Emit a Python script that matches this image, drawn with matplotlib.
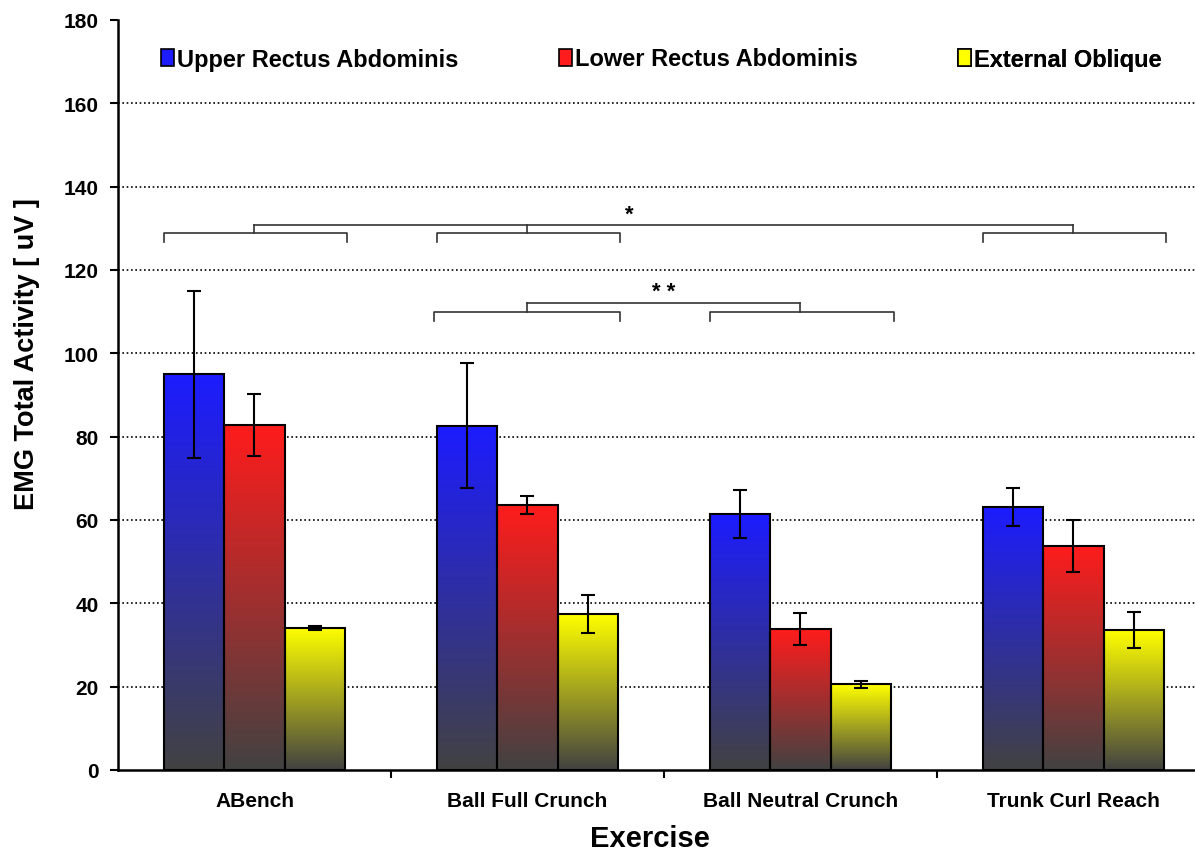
import numpy as np
import matplotlib
matplotlib.use("Agg")
import matplotlib.pyplot as plt
from matplotlib.colors import LinearSegmentedColormap
from matplotlib.patches import Patch

plt.rcParams["font.family"] = ["Liberation Sans", "DejaVu Sans"]
plt.rcParams["font.weight"] = "bold"

exercises = ["ABench", "Ball Full Crunch", "Ball Neutral Crunch", "Trunk Curl Reach"]
series = ["Upper Rectus Abdominis", "Lower Rectus Abdominis", "External Oblique"]
upper = [95.0, 82.6, 61.4, 63.1]
upper_err = [20.0, 15.0, 5.7, 4.6]
lower = [82.8, 63.6, 33.8, 53.8]
lower_err = [7.5, 2.1, 3.8, 6.3]
oblique = [34.1, 37.4, 20.6, 33.6]
oblique_err = [0.4, 4.5, 0.8, 4.3]
top_colors = ["#1c1cff", "#ff1c1c", "#ffff00"]
bottom_color = "#424242"

values = [upper, lower, oblique]
errors = [upper_err, lower_err, oblique_err]

fig = plt.figure(figsize=(11.95, 8.54), dpi=100)
# axes runs a little past the right edge, like the cropped original
ax = fig.add_axes([118 / 1195, 83 / 854, 1092 / 1195, 750 / 854])

width = 0.222
x = np.arange(len(exercises))
grad = np.linspace(0, 1, 256).reshape(-1, 1)

for i, (vals, errs, col) in enumerate(zip(values, errors, top_colors)):
    cmap = LinearSegmentedColormap.from_list(f"g{i}", [bottom_color, col])
    pos = x + (i - 1) * width
    for p, v in zip(pos, vals):
        ax.imshow(grad, cmap=cmap, origin="lower", aspect="auto",
                  extent=[p - width / 2, p + width / 2, 0, v], zorder=2)
    ax.bar(pos, vals, width, facecolor="none", edgecolor="black", linewidth=1.5, zorder=3)
    ax.errorbar(pos, vals, yerr=errs, fmt="none", ecolor="black", elinewidth=1.5,
                capsize=5, capthick=1.5, zorder=4)

ax.set_xlim(-0.5, 3.5)
ax.set_ylim(0, 180)
ax.set_yticks(np.arange(0, 181, 20))
ax.set_xticks(x)
ax.set_xticklabels(exercises, fontsize=15, fontweight="bold")
ax.set_xticks([0.5, 1.5, 2.5], minor=True)
ax.tick_params(axis="x", which="major", length=0, pad=15)
ax.tick_params(axis="x", which="minor", length=6, width=1.5, direction="out")
ax.tick_params(axis="y", labelsize=15, length=6, width=1.5, direction="out", pad=8)
for lab in ax.get_yticklabels():
    lab.set_fontweight("bold")

for gy in range(20, 180, 20):
    ax.axhline(gy, color="black", linestyle=(0, (1, 1.6)), linewidth=1.2, zorder=1)

for s in ["top", "right"]:
    ax.spines[s].set_visible(False)
ax.spines["left"].set_linewidth(1.8)
ax.spines["bottom"].set_linewidth(1.8)

ax.set_ylabel("EMG Total Activity [ uV ]", fontsize=19.5, fontweight="bold")
ax.yaxis.set_label_coords(-0.071, 0.556)
fig.text(650 / 1195, 1 / 854, "Exercise", ha="center", va="bottom", fontsize=21,
         fontweight="bold")


def bracket(x0, x1, y, leg, lw=1.2):
    ax.plot([x0, x0, x1, x1], [y - leg, y, y, y - leg], color="#333333", lw=lw, zorder=5,
            clip_on=False)


# significance brackets
for a, b in [(-0.333, 0.337), (0.667, 1.337), (2.67, 3.337)]:
    bracket(a, b, 128.9, 2.2)
for m in [0.0, 1.0, 3.0]:
    ax.plot([m, m], [128.9, 130.8], color="#333333", lw=1.2, zorder=5)
ax.plot([0.0, 3.0], [130.8, 130.8], color="#333333", lw=1.2, zorder=5)
ax.text(1.374, 133.5, "*", ha="center", va="center", fontsize=16, fontweight="bold")

for a, b in [(0.656, 1.34), (1.67, 2.344)]:
    bracket(a, b, 110.0, 2.2)
for m in [1.0, 2.0]:
    ax.plot([m, m], [110.0, 112.0], color="#333333", lw=1.2, zorder=5)
ax.plot([1.0, 2.0], [112.0, 112.0], color="#333333", lw=1.2, zorder=5)
ax.text(1.50, 114.8, "* *", ha="center", va="center", fontsize=16, fontweight="bold")

# one legend per entry so each sits where the original puts it
legend_x = [160, 558, 957]
for name, col, lx in zip(series, top_colors, legend_x):
    leg = ax.legend([Patch(facecolor=col, edgecolor="black", linewidth=1.2)], [name],
                    loc="center left",
                    bbox_to_anchor=((lx - 118) / 1092 - 0.008, (771 - 60) / 750),
                    frameon=False, handlelength=0.55, handleheight=0.75,
                    handletextpad=0.15, borderaxespad=0,
                    prop={"weight": "bold", "size": 17})
    ax.add_artist(leg)

fig.savefig("out.png", dpi=100)
